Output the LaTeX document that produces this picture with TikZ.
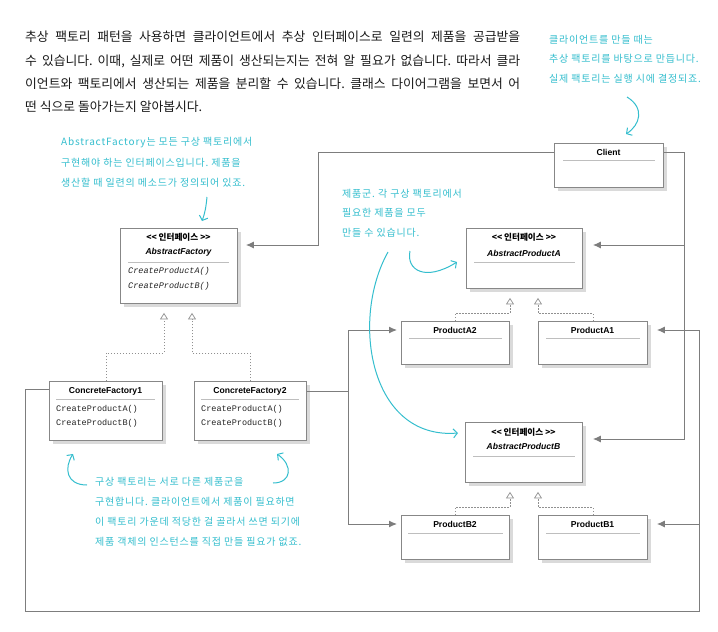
\documentclass[tikz,border=0pt]{standalone}
\usepackage{fontspec}
\setmainfont{Liberation Sans}
\newfontfamily\kr{Noto Sans CJK KR}
\newfontfamily\krhand[LetterSpace=8]{Noto Sans CJK KR}
\newfontfamily\umlsans{Liberation Sans}
\newfontfamily\umlmono{Liberation Mono}
\usetikzlibrary{arrows.meta,shadows}
\definecolor{hand}{RGB}{52,190,206}
\definecolor{boxline}{RGB}{135,135,135}
\definecolor{connc}{RGB}{125,125,125}
\definecolor{shadowc}{RGB}{218,218,218}
\definecolor{sepc}{RGB}{190,190,190}
\definecolor{txt}{RGB}{35,35,35}
\tikzset{
  umlbox/.style={draw=boxline, line width=0.9pt, fill=white, inner sep=0pt, anchor=north west,
    general shadow={fill=shadowc, shadow xshift=4pt, shadow yshift=-4pt}},
  utitle/.style={inner sep=0pt, font=\umlsans\bfseries\fontsize{8.6}{10}\selectfont, text=black},
  uiface/.style={inner sep=0pt, font=\kr\bfseries\fontsize{8.6}{10}\selectfont, text=black},
  uabs/.style={inner sep=0pt, font=\umlsans\bfseries\itshape\fontsize{8.6}{10}\selectfont, text=black},
  umeth/.style={inner sep=0pt, anchor=west, font=\umlmono\fontsize{8.5}{10}\selectfont, text=txt},
  umethi/.style={inner sep=0pt, anchor=west, font=\umlmono\itshape\fontsize{8.5}{10}\selectfont, text=txt},
  sepline/.style={draw=sepc, line width=0.8pt},
  assoc/.style={draw=connc, line width=1pt, -{Latex[length=8pt,width=7pt]}},
  assocplain/.style={draw=connc, line width=1pt},
  realize/.style={draw=connc!85, line width=0.7pt, dash pattern=on 1.5pt off 1.5pt,
    -{Triangle[open, length=6.5pt, width=8pt, fill=white]}},
  para/.style={inner sep=0pt, anchor=west, font=\kr\frenchspacing\fontsize{12.8}{15}\selectfont, text=black!90},
  note/.style={inner sep=0pt, anchor=west, font=\krhand\frenchspacing\fontsize{10}{12}\selectfont, text=hand},
  handarrow/.style={draw=hand, line width=1pt, -{Straight Barb[length=4pt,width=9pt]}}
}
\begin{document}
\begin{tikzpicture}[x=1pt,y=-1pt]
\useasboundingbox[fill=white] (0,0) rectangle (718,632);

% ---------- paragraph ----------
\node[para] (p1) at (25,37) {\makebox[495pt][s]{추상 팩토리 패턴을 사용하면 클라이언트에서 추상 인터페이스로 일련의 제품을 공급받을}};
\node[para] (p2) at (25,61) {\makebox[495pt][s]{수 있습니다. 이때, 실제로 어떤 제품이 생산되는지는 전혀 알 필요가 없습니다. 따라서 클라}};
\node[para] (p3) at (25,84) {\makebox[495pt][s]{이언트와 팩토리에서 생산되는 제품을 분리할 수 있습니다. 클래스 다이어그램을 보면서 어}};
\node[para] (p4) at (25,107) {떤 식으로 돌아가는지 알아봅시다.};

% ---------- boxes ----------
\node[umlbox, minimum width=109pt, minimum height=44pt] (client) at (554,143) {};
\node[utitle] (clientT) at (608.5,152) {Client};
\draw[sepline] (563,160) -- (655,160);

\node[umlbox, minimum width=117pt, minimum height=75pt] (af) at (120,228) {};
\node[uiface] (afI) at (178.5,237) {<< 인터페이스 >>};
\node[uabs] (afT) at (178.5,252) {AbstractFactory};
\draw[sepline] (128,262) -- (229,262);
\node[umethi] (afM1) at (128,271) {CreateProductA()};
\node[umethi] (afM2) at (128,286) {CreateProductB()};

\node[umlbox, minimum width=113pt, minimum height=59pt] (cf1) at (49,381) {};
\node[utitle] (cf1T) at (105.5,391) {ConcreteFactory1};
\draw[sepline] (56,399) -- (155,399);
\node[umeth] (cf1M1) at (56,409) {CreateProductA()};
\node[umeth] (cf1M2) at (56,423) {CreateProductB()};

\node[umlbox, minimum width=112pt, minimum height=59pt] (cf2) at (194,381) {};
\node[utitle] (cf2T) at (250,391) {ConcreteFactory2};
\draw[sepline] (201,399) -- (299,399);
\node[umeth] (cf2M1) at (201,409) {CreateProductA()};
\node[umeth] (cf2M2) at (201,423) {CreateProductB()};

\node[umlbox, minimum width=116pt, minimum height=60pt] (apa) at (466,228) {};
\node[uiface] (apaI) at (524,237) {<< 인터페이스 >>};
\node[uabs] (apaT) at (524,253) {AbstractProductA};
\draw[sepline] (474,262) -- (575,262);

\node[umlbox, minimum width=117pt, minimum height=60pt] (apb) at (465,422) {};
\node[uiface] (apbI) at (523.5,432) {<< 인터페이스 >>};
\node[uabs] (apbT) at (523.5,446) {AbstractProductB};
\draw[sepline] (473,456) -- (575,456);

\node[umlbox, minimum width=108pt, minimum height=43pt] (pa2) at (401,321) {};
\node[utitle] (pa2T) at (455,330) {ProductA2};
\draw[sepline] (409,338) -- (502,338);

\node[umlbox, minimum width=109pt, minimum height=43pt] (pa1) at (538,321) {};
\node[utitle] (pa1T) at (592.5,330) {ProductA1};
\draw[sepline] (546,338) -- (640,338);

\node[umlbox, minimum width=108pt, minimum height=44pt] (pb2) at (401,515) {};
\node[utitle] (pb2T) at (455,524) {ProductB2};
\draw[sepline] (408,533) -- (503,533);

\node[umlbox, minimum width=109pt, minimum height=44pt] (pb1) at (538,515) {};
\node[utitle] (pb1T) at (592.5,524) {ProductB1};
\draw[sepline] (546,533) -- (640,533);

% ---------- associations ----------
\draw[assoc, shorten >=8pt] ([yshift=13pt]client.west) -| (318,245) -- (af.east |- 0,245);
\draw[assoc, shorten >=10pt] ([yshift=13pt]client.east) -| (684,439) -- (apb.east |- 0,439);
\draw[assoc, shorten >=10pt] (684,245) -- (apa.east |- 0,245);

\draw[assoc, shorten >=9pt] ([yshift=-8pt]cf1.north west) -| (25,611) -| (699,330) -- (pa1.east |- 0,330);
\draw[assoc, shorten >=9pt] (699,524) -- (pb1.east |- 0,524);

\draw[assocplain] ([yshift=-10pt]cf2.north east) -- (348,391);
\draw[assoc, shorten >=4pt] (348,524) |- (pa2.west |- 0,330);
\draw[assoc, shorten >=4pt] (348,524) -- (pb2.west |- 0,524);

% ---------- realizations ----------
\draw[realize] (cf1.north) |- (164,353) -- ([yshift=-9pt]af.south -| 164,0);
\draw[realize] (cf2.north) |- (192,353) -- ([yshift=-9pt]af.south -| 192,0);
\draw[realize] (pa2.north) |- (510,313) -- ([yshift=-9pt]apa.south -| 510,0);
\draw[realize] (pa1.north) |- (538,313) -- ([yshift=-9pt]apa.south -| 538,0);
\draw[realize] (pb2.north) |- (510,507) -- ([yshift=-9pt]apb.south -| 510,0);
\draw[realize] (pb1.north) |- (538,507) -- ([yshift=-9pt]apb.south -| 538,0);

% ---------- notes ----------
\node[note] (n1a) at (549,40) {클라이언트를 만들 때는};
\node[note] (n1b) at (549,59) {추상 팩토리를 바탕으로 만듭니다.};
\node[note] (n1c) at (549,79) {실제 팩토리는 실행 시에 결정되죠.};
\coordinate (h1s) at (627,97);
\coordinate (h1e) at (626,134);
\draw[handarrow] (h1s) .. controls (645,108) and (640,125) .. (h1e);

\node[note] (n2a) at (61,143) {AbstractFactory는 모든 구상 팩토리에서};
\node[note] (n2b) at (61,163) {구현해야 하는 인터페이스입니다. 제품을};
\node[note] (n2c) at (61,183) {생산할 때 일련의 메소드가 정의되어 있죠.};
\coordinate (h2s) at (207,197);
\coordinate (h2e) at (202,221);
\draw[handarrow] (h2s) .. controls (206,207) and (205,213) .. (h2e);

\node[note] (n3a) at (342,194) {제품군. 각 구상 팩토리에서};
\node[note] (n3b) at (342,213) {필요한 제품을 모두};
\node[note] (n3c) at (342,233) {만들 수 있습니다.};
\coordinate (h3s) at (410,251);
\coordinate (h3e) at (457,262);
\draw[handarrow] (h3s) .. controls (406,270) and (425,282) .. (h3e);
\coordinate (h4s) at (388,252);
\coordinate (h4e) at (458,433);
\draw[handarrow] (h4s) .. controls (350,320) and (370,440) .. (h4e);

\node[note] (n4a) at (95,482) {구상 팩토리는 서로 다른 제품군을};
\node[note] (n4b) at (95,502) {구현합니다. 클라이언트에서 제품이 필요하면};
\node[note] (n4c) at (95,522) {이 팩토리 가운데 적당한 걸 골라서 쓰면 되기에};
\node[note] (n4d) at (95,542) {제품 객체의 인스턴스를 직접 만들 필요가 없죠.};
\coordinate (h5s) at (87,485);
\coordinate (h5e) at (73,454);
\draw[handarrow] (h5s) .. controls (66,485) and (64,468) .. (h5e);
\coordinate (h6s) at (273,483);
\coordinate (h6e) at (277,454);
\draw[handarrow] (h6s) .. controls (292,483) and (293,465) .. (h6e);
\end{tikzpicture}
\end{document}
